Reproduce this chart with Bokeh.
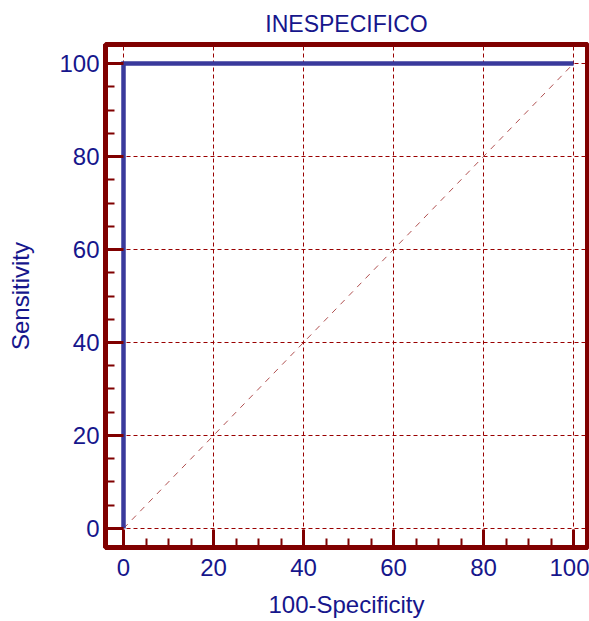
from bokeh.plotting import figure
from bokeh.models import Range1d, SingleIntervalTicker
from bokeh.embed import file_html
from bokeh.resources import INLINE

# Data
roc_x = [0, 0, 100]
roc_y = [0, 100, 100]
diag_x = [0, 100]
diag_y = [0, 100]

MAROON = "#800000"
NAVY = "#16168c"
LINE = "#3a3a9c"
FONT = "Liberation Sans"

p = figure(width=589, height=621, output_backend="svg", toolbar_location=None,
           x_range=Range1d(-4.0, 103.1), y_range=Range1d(-4.09, 104.09),
           min_border_left=105, min_border_right=2, min_border_top=44,
           min_border_bottom=74, title="INESPECIFICO")

p.title.align = "center"
p.title.text_font = FONT
p.title.text_font_size = "23px"
p.title.text_font_style = "normal"
p.title.text_color = NAVY
p.title.standoff = 16

p.outline_line_color = MAROON
p.outline_line_width = 5
p.background_fill_color = "white"
p.border_fill_color = "white"

for ax in (p.xaxis[0], p.yaxis[0]):
    ax.ticker = SingleIntervalTicker(interval=20, num_minor_ticks=4)
    ax.axis_line_color = MAROON
    ax.axis_line_width = 5
    ax.major_tick_in = 18
    ax.major_tick_out = 0
    ax.minor_tick_in = 9
    ax.minor_tick_out = 0
    ax.major_tick_line_color = MAROON
    ax.major_tick_line_width = 3
    ax.minor_tick_line_color = MAROON
    ax.minor_tick_line_width = 2
    ax.major_label_text_font = FONT
    ax.major_label_text_font_size = "24px"
    ax.major_label_text_color = NAVY
    ax.axis_label_text_font = FONT
    ax.axis_label_text_font_size = "24px"
    ax.axis_label_text_font_style = "normal"
    ax.axis_label_text_color = NAVY

p.xaxis.axis_label = "100-Specificity"
p.yaxis.axis_label = "Sensitivity"
p.xaxis.major_label_standoff = 11
p.yaxis.major_label_standoff = 6
p.xaxis.axis_label_standoff = 12
p.yaxis.axis_label_standoff = 22

for g in (p.xgrid[0], p.ygrid[0]):
    g.ticker = SingleIntervalTicker(interval=20)
    g.grid_line_color = "#990000"
    g.grid_line_width = 1
    g.grid_line_dash = "4 3"

p.line(diag_x, diag_y, line_color="#b05050", line_width=1, line_dash="6 6")
p.line(roc_x, roc_y, line_color=LINE, line_width=4.5, line_join="miter")

open("out.html", "w").write(file_html(p, INLINE))
